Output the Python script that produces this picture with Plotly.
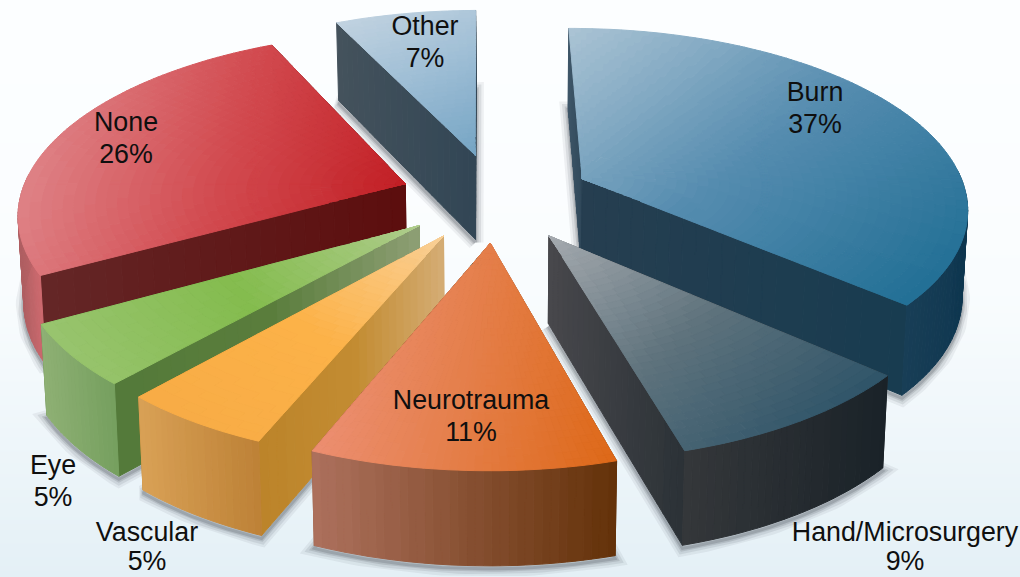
import math
import plotly.graph_objects as go

# ---- data (labels show these rounded to whole percents) ----
categories = ["Burn", "Hand/Microsurgery", "Neurotrauma", "Vascular", "Eye", "None", "Other"]
shares = [36.6, 9.15, 10.55, 5.33, 5.34, 26.08, 6.95]

# ---- style / layout constants ----
label_x = [815, 905, 471, 147, 53, 126, 425]
label_y = [94, 534, 402, 534, 467, 124, 28]
label_gap = [32, 29, 32, 29, 32, 32, 32]
START = -0.4
CX, CY, RX, RY, PERSP = 496, 197, 385, 178, 0.15
PULL = 0.25
draw_order = ["Other", "Burn", "None", "Hand/Microsurgery", "Eye", "Vascular", "Neurotrauma"]

top_style = {
    "Burn": ((0.6, 0.8), (170, 195, 212), (85, 140, 175), (35, 112, 150)),
    "Hand/Microsurgery": ((0.6, 0.7), (165, 170, 175), (95, 115, 125), (48, 85, 105)),
    "Neurotrauma": ((1, 0.2), (236, 142, 112), (228, 125, 70), (222, 105, 25)),
    "Vascular": ((-0.6, 0.8), (250, 208, 150), (252, 178, 72), (248, 172, 70)),
    "Eye": ((-0.85, 0.5), (175, 205, 140), (132, 188, 78), (152, 196, 110)),
    "None": ((1, 0.3), (222, 128, 132), (210, 75, 80), (195, 32, 38)),
    "Other": ((0.4, 0.9), (192, 210, 224), (155, 188, 212), (118, 165, 196)),
}
# colours from left to right along x
radial_style = {
    "Burn": ((38, 62, 80), (24, 60, 80)),
    "Hand/Microsurgery": ((72, 72, 76), (44, 50, 55)),
    "Neurotrauma": ((150, 90, 60), (100, 50, 10)),
    "Vascular": ((188, 132, 42), (195, 140, 50), (212, 172, 115)),
    "Eye": ((84, 122, 58), (90, 125, 60), (140, 158, 115)),
    "None": ((100, 38, 38), (92, 14, 14)),
    "Other": ((68, 82, 92), (50, 70, 85)),
}
back_wall_override = {"Burn": ((62, 86, 104), (48, 72, 90))}
outer_style = {
    "Burn": ((24, 62, 86), (15, 55, 80)),
    "Hand/Microsurgery": ((52, 55, 58), (26, 34, 40)),
    "Neurotrauma": ((172, 112, 92), (100, 50, 10)),
    "Vascular": ((216, 160, 85), (190, 130, 55)),
    "Eye": ((142, 176, 116), (118, 160, 95)),
    "None": ((175, 95, 98), (205, 105, 110)),
    "Other": ((68, 82, 92), (50, 70, 85)),
}


def project(u, v, z=0.0):
    s = 1 / (1 + PERSP * v)
    x = CX + RX * u * s
    y = CY - RY * v * s
    if z:
        x = CX + (x - CX) * 0.988
        y = y + 86 - 7.3 * v
    return x, y


def mix(cols, t):
    t = max(0, min(1, t))
    n = len(cols) - 1
    i = min(int(t * n), n - 1)
    f = t * n - i
    return tuple(cols[i][k] + (cols[i + 1][k] - cols[i][k]) * f for k in range(3))


def rgb(c):
    return "rgb(%d,%d,%d)" % tuple(round(v) for v in c)


def add_buckets(fig, buckets):
    for col, polys in buckets.items():
        xs, ys = [], []
        for p in polys:
            xs += [round(q[0], 1) for q in p] + [round(p[0][0], 1), None]
            ys += [round(q[1], 1) for q in p] + [round(p[0][1], 1), None]
        fig.add_trace(go.Scatter(x=xs, y=ys, mode="lines", fill="toself", fillcolor=col,
                                 line=dict(color=col, width=1), hoverinfo="skip", showlegend=False))


def add_band(fig, polys, cols, key, levels=24):
    vals = [key(p) for p in polys]
    lo, hi = min(vals), max(vals)
    buckets = {}
    for p, val in zip(polys, vals):
        t = (val - lo) / (hi - lo) if hi > lo else 0
        t = round(t * levels) / levels
        buckets.setdefault(rgb(mix(cols, t)), []).append(p)
    add_buckets(fig, buckets)


wedges = {}
a = START
for name, share in zip(categories, shares):
    span = share * 3.6
    wedges[name] = (a, a + span)
    a += span

fig = go.Figure()

# background wash
bg_rows = [0, 200, 300, 400, 480, 577]
bg_vals = [0.0, 0.05, 0.15, 0.45, 0.7, 1.0]
fig.add_trace(go.Heatmap(x=[0, 1020], y=bg_rows, z=[[v, v] for v in bg_vals], zsmooth="best", showscale=False,
                         colorscale=[[0, "rgb(252,254,255)"], [1, "rgb(228,240,246)"]],
                         zmin=0, zmax=1, hoverinfo="skip"))

for name in draw_order:
    a0, a1 = wedges[name]
    bis = math.radians((a0 + a1) / 2)
    pu, pv = PULL * math.sin(bis), PULL * math.cos(bis)
    n_arc = max(10, int((a1 - a0) / 1.0))
    ths = [math.radians(a0 + (a1 - a0) * i / n_arc) for i in range(n_arc + 1)]
    disk = lambda r, th: (pu + r * math.sin(th), pv + r * math.cos(th))

    # soft shadow: outline of the underside of the wedge
    under = [project(pu, pv, 1)] + [project(*disk(1, t), 1) for t in ths]
    under.append(under[0])
    for width, alpha in ((16, 0.07), (11, 0.10), (6, 0.14), (3, 0.18)):
        fig.add_trace(go.Scatter(x=[q[0] for q in under], y=[q[1] + 3 for q in under], mode="lines",
                                 line=dict(color="rgba(50,58,66,%.2f)" % alpha, width=width),
                                 hoverinfo="skip", showlegend=False))

    # radial walls, the one further back first
    edges = sorted([a0, a1], key=lambda d: -math.cos(math.radians(d)))
    for j, d in enumerate(edges):
        th = math.radians(d)
        polys = []
        n = 24
        for i in range(n):
            r0, r1 = i / n, (i + 1) / n
            A, B = disk(r0, th), disk(r1, th)
            polys.append([project(*A), project(*B), project(*B, 1), project(*A, 1)])
        cols = back_wall_override.get(name, radial_style[name]) if j == 0 else radial_style[name]
        add_band(fig, polys, cols, lambda p: sum(q[0] for q in p) / 4)

    # outer wall, only where it faces the viewer
    polys = []
    for t0, t1 in zip(ths[:-1], ths[1:]):
        if math.cos((t0 + t1) / 2) < 0.05:
            A, B = disk(1, t0), disk(1, t1)
            polys.append([project(*A), project(*B), project(*B, 1), project(*A, 1)])
    if polys:
        add_band(fig, polys, outer_style[name], lambda p: sum(q[0] for q in p) / 4)

    # top face
    direction, c0, c1, c2 = top_style[name]
    polys = []
    nr = 36
    for i in range(nr):
        r0, r1 = i / nr, (i + 1) / nr
        for t0, t1 in zip(ths[:-1], ths[1:]):
            polys.append([project(*disk(r0, t0)), project(*disk(r1, t0)),
                          project(*disk(r1, t1)), project(*disk(r0, t1))])
    add_band(fig, polys, (c0, c1, c2),
             lambda p: sum(q[0] * direction[0] + q[1] * direction[1] for q in p) / 4, levels=48)

# labels
text_x, text_y, text_s = [], [], []
for name, share, lx, ly, gap in zip(categories, shares, label_x, label_y, label_gap):
    text_x += [lx, lx]
    text_y += [ly, ly + gap]
    text_s += [name, "%d%%" % round(share)]
fig.add_trace(go.Scatter(x=text_x, y=text_y, text=text_s, mode="text", textposition="middle center",
                         textfont=dict(family="Liberation Sans", size=26.8, color="rgb(15,15,15)"),
                         hoverinfo="skip", showlegend=False, cliponaxis=False))

fig.update_layout(width=1020, height=577, margin=dict(l=0, r=0, t=0, b=0),
                  paper_bgcolor="rgb(250,253,255)", plot_bgcolor="rgba(0,0,0,0)", showlegend=False,
                  xaxis=dict(range=[0, 1020], visible=False, fixedrange=True),
                  yaxis=dict(range=[577, 0], visible=False, fixedrange=True))
fig.write_html("out.html", config=dict(displayModeBar=False),
               post_script="document.body.style.margin='0';document.documentElement.style.overflow='hidden';")
